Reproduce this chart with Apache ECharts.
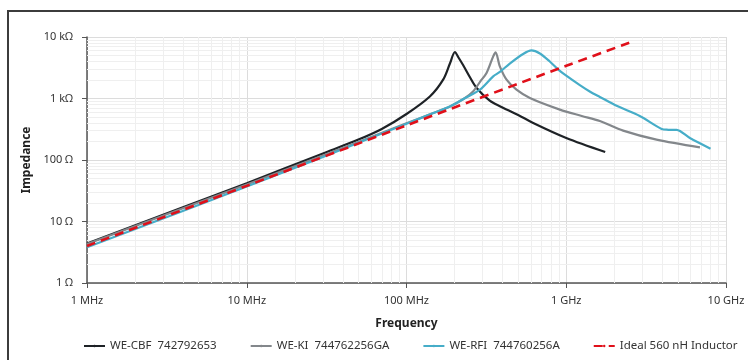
<!DOCTYPE html>
<html>
<head>
<meta charset="utf-8">
<script src="https://cdn.jsdelivr.net/npm/echarts@6/dist/echarts.min.js"></script>
<style>
  html, body { margin: 0; padding: 0; background: #fff; }
  #chart { width: 748px; height: 360px; }
</style>
</head>
<body>
<div id="chart"></div>
<script>
// frequency in MHz, impedance in ohm
const cbfFreq = [1, 10, 30, 50, 70, 100, 140, 170, 187, 201, 212, 226, 250, 274, 332, 384, 500, 621, 1000, 1753]
const cbfZ = [4.4, 42, 128, 215, 320, 560, 1080, 2050, 3700, 5700, 4600, 3500, 2200, 1500, 920, 750, 540, 400, 228, 135]

const kiFreq = [1, 10, 30, 100, 150, 187, 230, 261, 290, 317, 349, 361, 384, 423, 488, 592, 912, 1250, 1623, 2270, 3675, 6870]
const kiZ = [4.3, 40, 118, 395, 590, 743, 1000, 1300, 1900, 2600, 4840, 5620, 3330, 2024, 1390, 1019, 660, 520, 430, 300, 214, 160]

const rfiFreq = [1, 10, 30, 100, 150, 187, 230, 288, 349, 384, 443, 537, 606, 684, 789, 900, 1000, 1216, 1403, 1623, 2066, 2884, 3955, 4350, 4910, 5940, 8000]
const rfiZ = [3.8, 37, 112, 390, 590, 743, 1000, 1390, 2290, 2700, 3700, 5300, 6050, 5400, 4000, 2900, 2350, 1650, 1300, 1060, 760, 520, 320, 310, 308, 228, 153]

const idealFreq = [1, 10, 100, 1000, 2625]
const idealZ = [4.0, 38, 365, 3400, 8500]

const seriesNames = ['WE-CBF  742792653', 'WE-KI  744762256GA', 'WE-RFI  744760256A', 'Ideal 560 nH Inductor']

// minor grid positions
const minorX = [2, 3, 4, 5, 6, 7, 8, 9, 20, 30, 40, 50, 60, 70, 80, 90,
  200, 300, 400, 500, 600, 700, 800, 900, 2000, 3000, 4000, 5000, 6000, 7000, 8000, 9000]
const minorY = [2, 3, 4, 5, 6, 7, 8, 9, 20, 30, 40, 50, 60, 70, 80, 90,
  200, 300, 400, 500, 600, 700, 800, 900, 2000, 3000, 4000, 5000, 6000, 7000, 8000, 9000]

const pairs = (xs, ys) => xs.map((x, i) => [x, ys[i]])

const chart = echarts.init(document.getElementById('chart'))
const font = 'Noto Sans'

const solidIcon = 'path://M0,0h22v3h-22z'
const dashIcon = 'path://M0,0h8v3h-8z M13,0h8v3h-8z'

const curve = (name, xs, ys, color, type, width, icon) => ({
  name: name,
  type: 'line',
  data: pairs(xs, ys),
  symbol: 'none',
  smooth: 0.3,
  zlevel: 1,
  legendIcon: icon,
  lineStyle: { color: color, width: width, type: type },
  itemStyle: { color: color }
})

const option = {
  animation: false,
  textStyle: { fontFamily: font },
  graphic: [{
    type: 'rect',
    silent: true,
    shape: { x: 8, y: 11, width: 800, height: 400 },
    style: { fill: 'none', stroke: '#3c3c3c', lineWidth: 2 }
  }],
  grid: { left: 87, right: 22, top: 37, bottom: 77 },
  legend: {
    data: seriesNames,
    left: 78,
    top: 335,
    width: 700,
    itemGap: 33,
    itemWidth: 21,
    itemHeight: 3,
    textStyle: { fontFamily: font, fontSize: 11.5, color: '#333' }
  },
  xAxis: {
    type: 'log',
    logBase: 10,
    min: 1,
    max: 10000,
    name: 'Frequency',
    nameLocation: 'middle',
    nameGap: 35,
    nameTextStyle: { fontFamily: font, fontSize: 12, fontWeight: 'bold', color: '#222' },
    axisLine: { lineStyle: { color: '#555', width: 1.5 } },
    axisTick: { show: true, length: 5, lineStyle: { color: '#555' } },
    axisLabel: {
      fontFamily: font, fontSize: 11, color: '#333', margin: 12,
      formatter: v => v >= 1000 ? (v / 1000) + ' GHz' : v + ' MHz'
    },
    splitLine: { show: true, lineStyle: { color: '#dcdcdc', width: 1 } }
  },
  yAxis: {
    type: 'log',
    logBase: 10,
    min: 1,
    max: 10000,
    name: 'Impedance',
    nameLocation: 'middle',
    nameGap: 53,
    nameRotate: 90,
    nameTextStyle: { fontFamily: font, fontSize: 12, fontWeight: 'bold', color: '#222' },
    axisLine: { show: true, lineStyle: { color: '#555', width: 1.5 } },
    axisTick: { show: true, length: 5, lineStyle: { color: '#555' } },
    axisLabel: {
      fontFamily: font, fontSize: 11, color: '#333', margin: 14,
      formatter: v => v >= 1000 ? (v / 1000) + ' kΩ' : v + ' Ω'
    },
    splitLine: { show: true, lineStyle: { color: '#dcdcdc', width: 1 } }
  },
  series: [
    {
      name: 'grid',
      type: 'line',
      data: [],
      z: 1,
      silent: true,
      markLine: {
        silent: true,
        symbol: ['none', 'none'],
        label: { show: false },
        lineStyle: { color: '#efefef', width: 1, type: 'solid' },
        data: minorX.map(v => ({ xAxis: v })).concat(minorY.map(v => ({ yAxis: v })))
      }
    },
    curve(seriesNames[0], cbfFreq, cbfZ, '#1e2226', 'solid', 2.2, solidIcon),
    curve(seriesNames[1], kiFreq, kiZ, '#83878b', 'solid', 2.2, solidIcon),
    curve(seriesNames[2], rfiFreq, rfiZ, '#46adc8', 'solid', 2.2, solidIcon),
    curve(seriesNames[3], idealFreq, idealZ, '#e0101a', [9, 6], 2.6, dashIcon)
  ]
}

chart.setOption(option)
</script>
</body>
</html>
